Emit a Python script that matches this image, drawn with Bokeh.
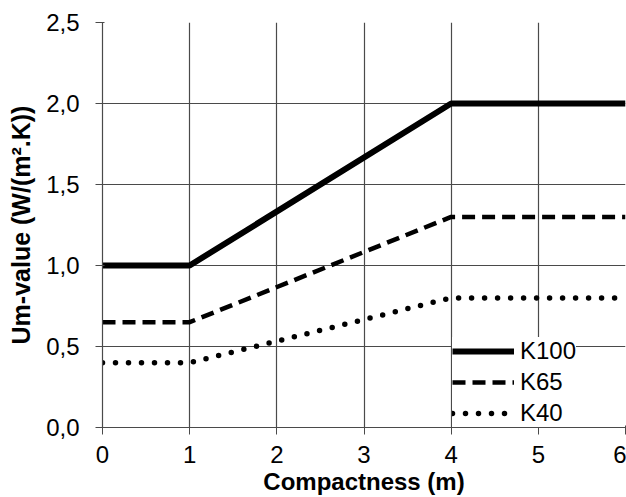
from bokeh.plotting import figure
from bokeh.models import FixedTicker, CustomJSTickFormatter, Range1d
from bokeh.embed import file_html
from bokeh.resources import INLINE

# Data
compactness = [0, 1, 4, 6]
k100 = [1.0, 1.0, 2.0, 2.0]
k65 = [0.65, 0.65, 1.3, 1.3]
k40 = [0.4, 0.4, 0.8, 0.8]
x_ticks = [0, 1, 2, 3, 4, 5, 6]
y_ticks = [0.0, 0.5, 1.0, 1.5, 2.0, 2.5]

FONT = "Liberation Sans"
GRID = "#4a4a4a"

p = figure(width=626, height=497, output_backend="svg", toolbar_location=None,
           x_range=Range1d(0, 6), y_range=Range1d(0, 2.5),
           min_border_left=102, min_border_right=1, min_border_top=22, min_border_bottom=64)
p.background_fill_color = "white"
p.border_fill_color = "white"
p.outline_line_color = None

p.line(compactness, k100, line_width=6, line_color="black", legend_label="K100")
p.line(compactness, k65, line_width=4.5, line_color="black", line_dash="13 7", legend_label="K65")
p.line(compactness, k40, line_width=5.5, line_color="black", line_dash="0 13",
       line_cap="round", legend_label="K40")

for ax in (p.xaxis[0], p.yaxis[0]):
    ax.axis_line_color = GRID
    ax.axis_line_width = 1.2
    ax.major_tick_line_color = GRID
    ax.major_tick_out = 7
    ax.major_tick_in = 2
    ax.minor_tick_line_color = None
    ax.major_label_text_font = FONT
    ax.major_label_text_font_size = "24px"
    ax.major_label_text_color = "black"
    ax.axis_label_text_font = FONT
    ax.axis_label_text_font_style = "bold"
    ax.axis_label_text_color = "black"

p.xaxis[0].axis_label_text_font_size = "24px"
p.yaxis[0].axis_label_text_font_size = "25px"
p.xaxis[0].ticker = FixedTicker(ticks=x_ticks)
p.yaxis[0].ticker = FixedTicker(ticks=y_ticks)
p.yaxis[0].formatter = CustomJSTickFormatter(code="return tick.toFixed(1).replace('.', ',');")
p.xaxis[0].axis_label = "Compactness (m)"
p.yaxis[0].axis_label = "Um-value (W/(m².K))"
p.xaxis[0].major_label_standoff = 11
p.xaxis[0].axis_label_standoff = 2
p.yaxis[0].major_label_standoff = 16
p.yaxis[0].axis_label_standoff = 8

p.xgrid.ticker = FixedTicker(ticks=x_ticks)
p.ygrid.ticker = FixedTicker(ticks=y_ticks)
p.grid.grid_line_color = GRID
p.grid.grid_line_width = 1.2

lg = p.legend[0]
lg.location = (350, 0)
lg.background_fill_color = "white"
lg.background_fill_alpha = 1.0
lg.border_line_color = None
lg.label_text_font = FONT
lg.label_text_font_size = "24px"
lg.label_text_color = "black"
lg.glyph_width = 62
lg.glyph_height = 24
lg.label_height = 24
lg.label_standoff = 6
lg.spacing = 3
lg.padding = 10
lg.margin = 0

open("out.html", "w").write(file_html(p, INLINE))
